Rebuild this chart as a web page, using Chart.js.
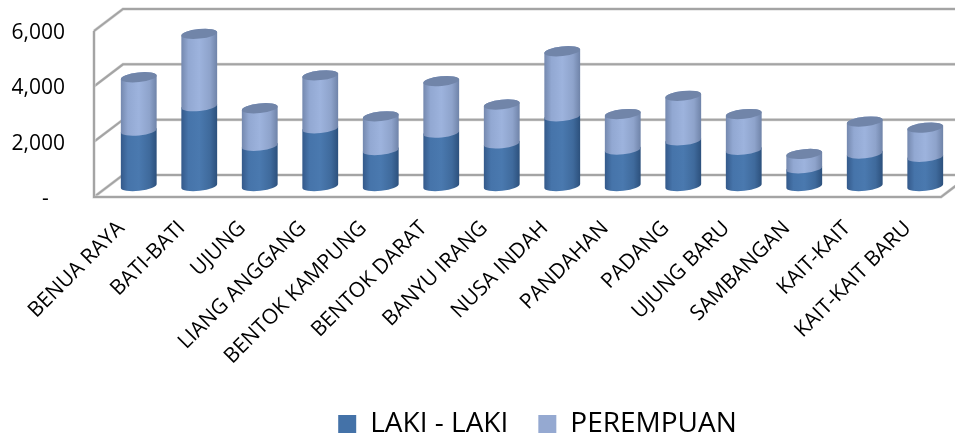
<!DOCTYPE html>
<html>
<head>
<meta charset="utf-8">
<style>html,body{margin:0;padding:0;background:#fff}#wrap{width:955px;height:436px}</style>
<script src="https://cdn.jsdelivr.net/npm/chart.js@4"></script>
</head>
<body>
<div id="wrap"><canvas id="c" width="955" height="436"></canvas></div>
<script>
const categories = ['BENUA RAYA','BATI-BATI','UJUNG','LIANG ANGGANG','BENTOK KAMPUNG','BENTOK DARAT','BANYU IRANG','NUSA INDAH','PANDAHAN','PADANG','UJUNG BARU','SAMBANGAN','KAIT-KAIT','KAIT-KAIT BARU'];
const lakiLaki = [2000,2885,1455,2085,1300,1930,1540,2520,1320,1650,1310,640,1175,1055];
const perempuan = [1930,2615,1355,1915,1220,1860,1405,2350,1280,1610,1290,520,1155,1055];
const yTicks = [0,2000,4000,6000];

const FONT = '"Open Sans", sans-serif';
const DEPTH_X = 29, DEPTH_Y = 22;
const RY = 4.8, TILT = -6 * Math.PI / 180;
const LEGEND_TOP = 380, LEGEND_SHIFT = 67;
const SHADES = [
  {swatch:'#4472a8', stops:['#34598a','#4674aa','#4a79af','#3f6a9c','#2c507c'], cap:'#4a6a94'},
  {swatch:'#95a9d1', stops:['#7488ae','#92a8d2','#9db3dd','#8ea3cb','#6f83a8'], cap:'#7185a9'}
];

const drawCylinders = (chart) => {
  const {ctx} = chart;
  chart.data.datasets.forEach((ds, index) => {
    const shade = SHADES[index], isTop = index === chart.data.datasets.length - 1;
    ctx.save();
    chart.getDatasetMeta(index).data.forEach(el => {
      const x = el.x + DEPTH_X/2, rx = el.width/2;
      const top = el.y - DEPTH_Y/2, base = el.base - DEPTH_Y/2;
      const g = ctx.createLinearGradient(x-rx,0,x+rx,0);
      const pos = [0,.2,.5,.8,1];
      shade.stops.forEach((c,i)=>g.addColorStop(pos[i],c));
      ctx.beginPath();
      ctx.ellipse(x,base,rx,RY,TILT,0,Math.PI);
      ctx.ellipse(x,top,rx,RY,TILT,Math.PI,2*Math.PI);
      ctx.closePath();
      ctx.fillStyle = g; ctx.fill();
      if(isTop){
        ctx.beginPath();
        ctx.ellipse(x,top,rx,RY,TILT,0,2*Math.PI);
        ctx.fillStyle = shade.cap; ctx.fill();
      }
    });
    ctx.restore();
  });
};

const walls = {
  id:'walls',
  afterLayout(chart){
    const l = chart.legend;
    l.top = LEGEND_TOP; l.left += LEGEND_SHIFT; l.right += LEGEND_SHIFT;
    chart.scales.x.bottom = chart.height;
  },
  beforeDatasetDraw(){ return false; },
  beforeDatasetsDraw(chart){
    const {ctx, chartArea:a, scales:{y}} = chart;
    const line = (pts) => {
      [[3,'#d8d8d8'],[2,'#a4a4a4']].forEach(([w,c])=>{
        ctx.lineWidth = w; ctx.strokeStyle = c; ctx.beginPath();
        pts.forEach((p,i)=> i ? ctx.lineTo(p[0],p[1]) : ctx.moveTo(p[0],p[1]));
        ctx.stroke();
      });
    };
    ctx.save();
    const y0 = y.getPixelForValue(0), yMax = y.getPixelForValue(6000);
    yTicks.forEach(v=>{
      const p = y.getPixelForValue(v);
      line([[a.left,p],[a.left+DEPTH_X,p-DEPTH_Y],[a.right+DEPTH_X,p-DEPTH_Y]]);
    });
    line([[a.left,yMax],[a.left,y0],[a.right,y0],[a.right+DEPTH_X,y0-DEPTH_Y]]);
    ctx.restore();
    drawCylinders(chart);
  }
};

new Chart(document.getElementById('c'),{
  type:'bar',
  data:{labels:categories,datasets:[
    {label:'LAKI - LAKI',data:lakiLaki,backgroundColor:SHADES[0].swatch,borderWidth:0},
    {label:'PEREMPUAN',data:perempuan,backgroundColor:SHADES[1].swatch,borderWidth:0}
  ]},
  plugins:[walls],
  options:{
    responsive:false,animation:false,
    layout:{padding:{top:31,left:0,right:14,bottom:0}},
    categoryPercentage:1,barPercentage:.595,
    plugins:{
      tooltip:{enabled:false},
      legend:{position:'bottom',labels:{boxWidth:18,boxHeight:18,padding:30,color:'#000',font:{family:FONT,size:28}}}
    },
    scales:{
      x:{stacked:true,grid:{display:false,drawTicks:false},border:{display:false},
        afterFit(s){s.height=171;s.paddingLeft=0;s.paddingRight=0;},
        ticks:{autoSkip:false,minRotation:45,maxRotation:45,padding:19,labelOffset:-3,color:'#000',font:{family:FONT,size:21}}},
      y:{stacked:true,min:0,max:6000,grid:{display:false,drawTicks:false},border:{display:false},
        afterFit(s){s.width=94;s.paddingTop=0;s.paddingBottom=0;},
        afterBuildTicks(s){s.ticks=yTicks.map(value=>({value}));},
        ticks:{padding:29,labelOffset:2,color:'#000',font:{family:FONT,size:21},
          callback:v=> v===0 ? '-   ' : v.toLocaleString('en-US')}}
    }
  }
});
</script>
</body>
</html>
